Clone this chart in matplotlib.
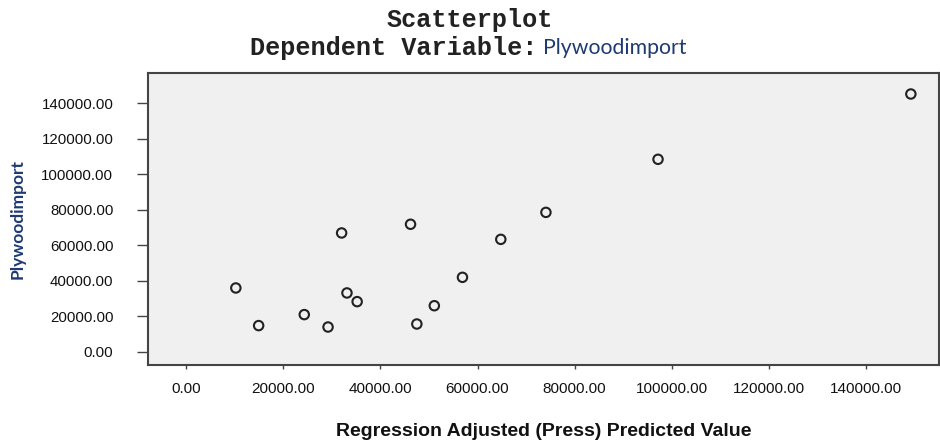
import matplotlib
matplotlib.use("Agg")
import matplotlib.pyplot as plt
from matplotlib.ticker import FormatStrFormatter

# Data (Regression Adjusted (Press) Predicted Value vs Plywoodimport)
predicted = [10200, 14900, 24300, 29200, 32000, 33100, 35200, 46200,
             47500, 51100, 56900, 64800, 74100, 97200, 149300]
plywood = [35900, 14700, 20900, 13900, 66900, 33100, 28200, 71800,
           15600, 25900, 41900, 63300, 78500, 108400, 145200]
xticks = [0, 20000, 40000, 60000, 80000, 100000, 120000, 140000]
yticks = [0, 20000, 40000, 60000, 80000, 100000, 120000, 140000]

W, H = 940, 442
fig = plt.figure(figsize=(W / 100, H / 100), dpi=100)
fig.patch.set_facecolor("white")

left, right, top, bottom = 148, 939, 72.7, 365
ax = fig.add_axes([left / W, 1 - bottom / H, (right - left) / W, (bottom - top) / H])
ax.set_facecolor("#f0f0f0")

ax.scatter(predicted, plywood, s=46, facecolors="none", edgecolors="#222222",
           linewidths=1.5, zorder=3)

ax.set_xlim(-7900, 155100)
ax.set_ylim(-7500, 157200)
ax.set_xticks(xticks)
ax.set_yticks(yticks)
ax.xaxis.set_major_formatter(FormatStrFormatter("%.2f"))
ax.yaxis.set_major_formatter(FormatStrFormatter("%.2f"))

for sp in ax.spines.values():
    sp.set_color("#444444")
    sp.set_linewidth(1.5)

ax.tick_params(axis="y", direction="out", length=8, width=1, color="#444444",
               pad=17, labelsize=10.8, labelcolor="#111111")
ax.tick_params(axis="x", direction="out", length=3, width=1, color="#444444",
               pad=9, labelsize=11, labelcolor="#111111")
for lab in ax.get_xticklabels() + ax.get_yticklabels():
    lab.set_fontfamily("Liberation Sans")

ax.set_xlabel("Regression Adjusted (Press) Predicted Value", family="Liberation Sans",
              fontsize=14, fontweight="bold", color="#111111")
ax.xaxis.set_label_coords(0.5, -0.2)
ax.set_ylabel("Plywoodimport", family="Lato", fontsize=12.5, fontweight="bold",
              color="#1f3a72")
ax.yaxis.set_label_coords(-0.155, 0.5)

fig.text(0.5, 1 - 20 / H, "Scatterplot", family="Liberation Mono", fontweight="bold",
         fontsize=18.2, ha="center", va="center", color="#222222")
fig.text(537 / W, 1 - 48 / H, "Dependent Variable:", family="Liberation Mono",
         fontweight="bold", fontsize=18.2, ha="right", va="center", color="#222222")
fig.text(543 / W, 1 - 48 / H, "Plywoodimport", family="Lato", fontsize=15.3,
         ha="left", va="center", color="#1f3a72")

fig.savefig("out.png", dpi=100)
